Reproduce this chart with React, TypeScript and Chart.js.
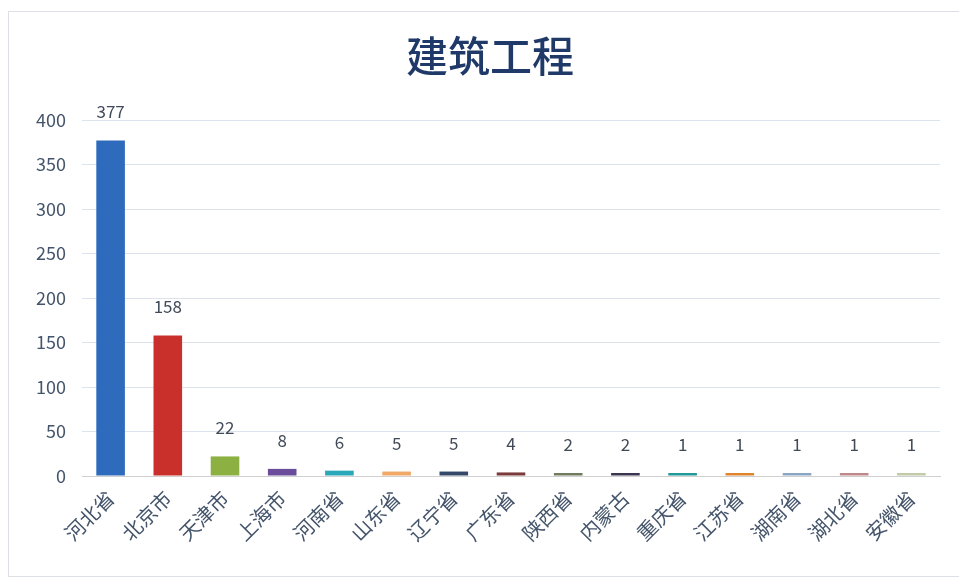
import React, { useEffect, useRef } from "react";
import { Chart, registerables } from "chart.js";

Chart.register(...registerables);

const TITLE = "建筑工程";
const categories = ["河北省", "北京市", "天津市", "上海市", "河南省", "山东省", "辽宁省", "广东省", "陕西省", "内蒙古", "重庆省", "江苏省", "湖南省", "湖北省", "安徽省"];
const values = [377, 158, 22, 8, 6, 5, 5, 4, 2, 2, 1, 1, 1, 1, 1];
const barColors = ["#2e6bbd", "#c9302c", "#8db043", "#6a4c9a", "#2aa7b8", "#f0a866", "#34496a", "#7a3a3a", "#6f7a5e", "#3c3552", "#23989a", "#e0842e", "#8aa6c4", "#c08888", "#c2caa6"];
const yTicks = [0, 50, 100, 150, 200, 250, 300, 350, 400];

const FONT = "'Noto Sans CJK SC', 'Open Sans', sans-serif";

const labelPlugin = {
  id: "barLabels",
  afterDatasetsDraw(chart: any) {
    const ctx = chart.ctx;
    const meta = chart.getDatasetMeta(0);
    const yScale = chart.scales.y;
    ctx.save();
    ctx.fillStyle = "#404a58";
    ctx.font = `17px ${FONT}`;
    ctx.textAlign = "center";
    ctx.textBaseline = "bottom";
    meta.data.forEach((el: any, i: number) => {
      const top = Math.min(el.y, yScale.getPixelForValue(0) - 3);
      ctx.fillText(String(values[i]), el.x, top - 20);
    });
    ctx.restore();
  },
};

const titlePlugin = {
  id: "customTitle",
  afterDraw(chart: any) {
    const ctx = chart.ctx;
    ctx.save();
    ctx.fillStyle = "#1f3a68";
    ctx.font = `500 42px ${FONT}`;
    ctx.textAlign = "center";
    ctx.textBaseline = "middle";
    ctx.fillText(TITLE, 490, 56);
    ctx.restore();
  },
};

export default function App() {
  const ref = useRef<HTMLCanvasElement>(null);
  useEffect(() => {
    const chart = new Chart(ref.current!, {
      type: "bar",
      data: {
        labels: categories,
        datasets: [
          {
            data: values,
            backgroundColor: barColors,
            borderWidth: 0,
            barPercentage: 0.5,
            categoryPercentage: 1,
            minBarLength: 3,
          },
        ],
      },
      options: {
        animation: false,
        responsive: false,
        maintainAspectRatio: false,
        layout: { padding: { left: 0, right: 19, top: 120, bottom: 0 } },
        plugins: { legend: { display: false }, tooltip: { enabled: false }, title: { display: false } },
        scales: {
          x: {
            grid: { display: false, drawTicks: false },
            border: { display: true, color: "#d0d0d0" },
            ticks: {
              minRotation: 45,
              maxRotation: 45,
              padding: 10,
              color: "#44546a",
              font: { size: 20, family: FONT },
              autoSkip: false,
            },
            afterFit(scale: any) {
              scale.height = 106;
            },
          },
          y: {
            min: 0,
            max: 400,
            afterBuildTicks(scale: any) {
              scale.ticks = yTicks.map((v) => ({ value: v }));
            },
            grid: { color: "#dde3ec", drawTicks: false },
            border: { display: false },
            ticks: {
              padding: 16,
              color: "#44546a",
              font: { size: 18, family: FONT },
            },
            afterFit(scale: any) {
              scale.width = 82;
            },
          },
        },
      },
      plugins: [labelPlugin, titlePlugin],
    });
    return () => chart.destroy();
  }, []);
  return (
    <div style={{ position: "fixed", left: 0, top: 0, width: 959, height: 582, background: "#fff" }}>
      <div style={{ position: "absolute", left: 8, top: 11, width: 960, height: 566, border: "1px solid #dcdfe3", boxSizing: "border-box" }} />
      <canvas ref={ref} width={959} height={582} style={{ position: "absolute", left: 0, top: 0, width: 959, height: 582 }} />
    </div>
  );
}
